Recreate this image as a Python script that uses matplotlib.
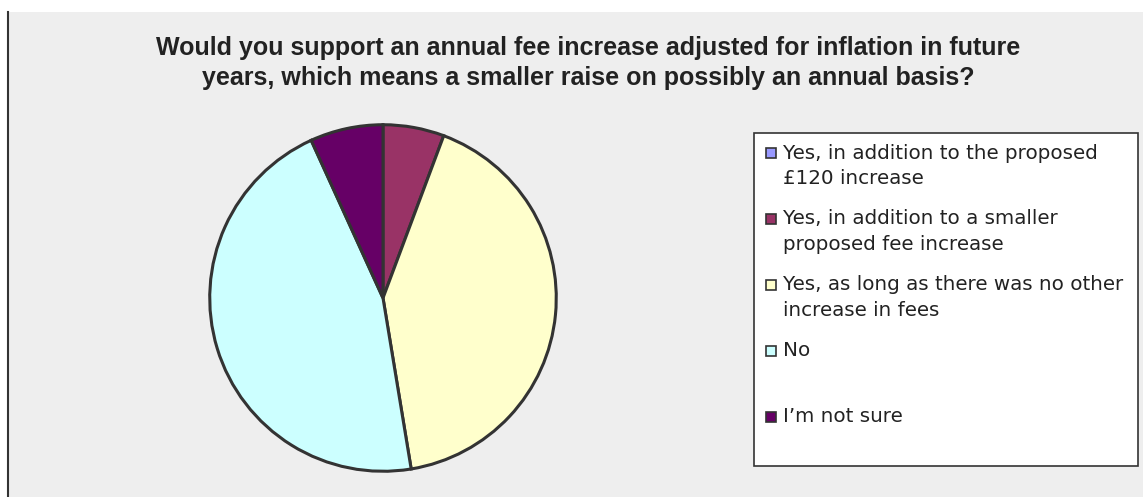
import matplotlib

matplotlib.use("Agg")
import matplotlib.pyplot as plt
from matplotlib.patches import Rectangle

# survey answers, share of respondents (%)
labels = [
    "Yes, in addition to the proposed\n£120 increase",
    "Yes, in addition to a smaller\nproposed fee increase",
    "Yes, as long as there was no other\nincrease in fees",
    "No",
    "I\u2019m not sure",
]
shares = [0.0, 5.7, 41.7, 45.8, 6.8]
colors = ["#9999FF", "#993366", "#FFFFCC", "#CCFFFF", "#660066"]
title = ("Would you support an annual fee increase adjusted for inflation in future\n"
         "years, which means a smaller raise on possibly an annual basis?")

W, H = 1143, 497
fig = plt.figure(figsize=(W / 100, H / 100), dpi=100)
fig.patch.set_facecolor("white")

# grey chart area with the dark left border
fig.add_artist(Rectangle((8 / W, 0), 1 - 8 / W, 1 - 12 / H, transform=fig.transFigure,
                         facecolor="#EEEEEE", edgecolor="none", zorder=-10))
fig.add_artist(plt.Line2D([7.5 / W, 7.5 / W], [0, 1 - 12 / H], transform=fig.transFigure,
                          color="#333333", lw=1.5, zorder=-9))

fig.text(588 / W, 1 - 63 / H, title, ha="center", va="center", fontsize=18,
         fontweight="bold", color="#222222", family="Liberation Sans", linespacing=1.32)

# pie
cx, cy, r = 383, 298, 175
ax = fig.add_axes([(cx - r) / W, (H - cy - r) / H, 2 * r / W, 2 * r / H])
ax.pie(shares, colors=colors, startangle=90, counterclock=False, radius=1,
       wedgeprops=dict(edgecolor="#333333", linewidth=2.2))
ax.set_xlim(-1.01, 1.01)
ax.set_ylim(-1.01, 1.01)
ax.set_axis_off()

# legend box
lx0, ly0, lx1, ly1 = 754, 133, 1138, 466
fig.add_artist(Rectangle((lx0 / W, 1 - ly1 / H), (lx1 - lx0) / W, (ly1 - ly0) / H,
                         transform=fig.transFigure, facecolor="white",
                         edgecolor="#333333", lw=1.2))
for i, (lab, col) in enumerate(zip(labels, colors)):
    y = 153 + 66 * i
    fig.add_artist(Rectangle((766 / W, 1 - (y + 5) / H), 10 / W, 10 / H,
                             transform=fig.transFigure, facecolor=col,
                             edgecolor="#333333", lw=1.2))
    fig.text(783 / W, 1 - (y - 9.5) / H, lab, ha="left", va="top", fontsize=14.3,
             color="#222222", family="DejaVu Sans", linespacing=1.42)

fig.savefig("out.png", dpi=100)
